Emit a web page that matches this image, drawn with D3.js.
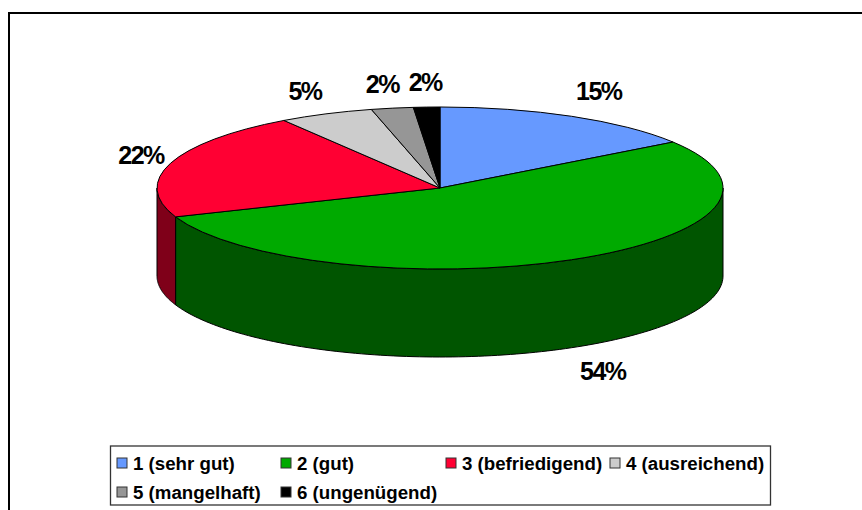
<!DOCTYPE html>
<html>
<head>
<meta charset="utf-8">
<script src="https://cdn.jsdelivr.net/npm/d3@7"></script>
<style>
  html, body { margin: 0; padding: 0; background: #fff; overflow: hidden; }
  svg { display: block; font-family: "Liberation Sans", Arial, sans-serif; font-weight: bold; }
</style>
</head>
<body>
<script>
// values
let categories = ["1 (sehr gut)", "2 (gut)", "3 (befriedigend)", "4 (ausreichend)", "5 (mangelhaft)", "6 (ungenügend)"];
let values = [15.4, 53.8, 21.5, 5.4, 2.4, 1.5];
let colors = ["#6699ff", "#00aa00", "#ff0033", "#cccccc", "#969696", "#000000"];
let wallColors = ["#334c80", "#005500", "#7f0019", "#666666", "#4b4b4b", "#000000"];

let width = 862;
let height = 510;
let cx = 440, cy = 188, rx = 283, ry = 81, depth = 88;

let svg = d3.select("body").append("svg").attr("width", width).attr("height", height);

// outer frame, only top and left are inside the picture
svg.append("path")
  .attr("d", `M9,${height}V13H${width}`)
  .attr("fill", "none")
  .attr("stroke", "#000")
  .attr("stroke-width", 2);

let pie = d3.pie().sort(null).value((d) => d)(values);

// angle 0 is at the top, going clockwise like d3.pie
let px = (a) => cx + rx * Math.sin(a);
let py = (a) => cy - ry * Math.cos(a);

let wallPath = d3.area()
  .x((a) => px(a))
  .y0((a) => py(a))
  .y1((a) => py(a) + depth);

let chart = svg.append("g");

// side walls, only the front half of the ellipse shows
pie.forEach((d, i) => {
  let start = Math.max(d.startAngle, Math.PI / 2);
  let end = Math.min(d.endAngle, 1.5 * Math.PI);
  if (end <= start) return;
  let angles = d3.range(0, 121).map((k) => start + ((end - start) * k) / 120);
  chart.append("path")
    .attr("d", wallPath(angles) + "Z")
    .attr("fill", wallColors[i])
    .attr("stroke", "#000")
    .attr("stroke-width", 1);
});

// top of the pie, circle arcs squashed into the ellipse
let arc = d3.arc().innerRadius(0).outerRadius(rx);
chart.append("g")
  .attr("transform", `translate(${cx},${cy}) scale(1,${ry / rx})`)
  .selectAll("path")
  .data(pie)
  .enter()
  .append("path")
  .attr("d", arc)
  .attr("fill", (d, i) => colors[i])
  .attr("stroke", "#000")
  .attr("stroke-width", 1)
  .attr("vector-effect", "non-scaling-stroke");

// percent labels around the rim, nudged where the placement differs
let labelNudge = [[3, -1], [7, 1], [20, 1], [0, 1.5], [-1, 2.5], [1, 2]];
svg.append("g")
  .selectAll("text")
  .data(pie)
  .enter()
  .append("text")
  .text((d) => Math.round(d.value) + "%")
  .attr("x", (d, i) => {
    let mid = (d.startAngle + d.endAngle) / 2;
    return cx + 335 * Math.sin(mid) + labelNudge[i][0];
  })
  .attr("y", (d, i) => {
    let mid = (d.startAngle + d.endAngle) / 2;
    let base = cy - 107 * Math.cos(mid) + (Math.cos(mid) < 0 ? depth : 0);
    return base + labelNudge[i][1] + 8;
  })
  .attr("text-anchor", "middle")
  .attr("font-size", "25px")
  .attr("letter-spacing", "-1.5px")
  .attr("fill", "#000");

// legend
let legend = svg.append("g");
legend.append("rect")
  .attr("x", 110.5)
  .attr("y", 446)
  .attr("width", 660)
  .attr("height", 59)
  .attr("fill", "#fff")
  .attr("stroke", "#333")
  .attr("stroke-width", 1.3);

let columnX = [117, 281, 446, 610];
let rowY = [458, 487];

let items = legend.selectAll("g")
  .data(categories)
  .enter()
  .append("g")
  .attr("transform", (d, i) => `translate(${columnX[i % 4]},${rowY[Math.floor(i / 4)]})`);

items.append("rect")
  .attr("width", 10)
  .attr("height", 10)
  .attr("fill", (d, i) => colors[i])
  .attr("stroke", "#333")
  .attr("stroke-width", 1);

items.append("text")
  .text((d) => d)
  .attr("x", 16)
  .attr("y", 12)
  .attr("font-size", "18.7px")
  .attr("fill", "#000");
</script>
</body>
</html>
